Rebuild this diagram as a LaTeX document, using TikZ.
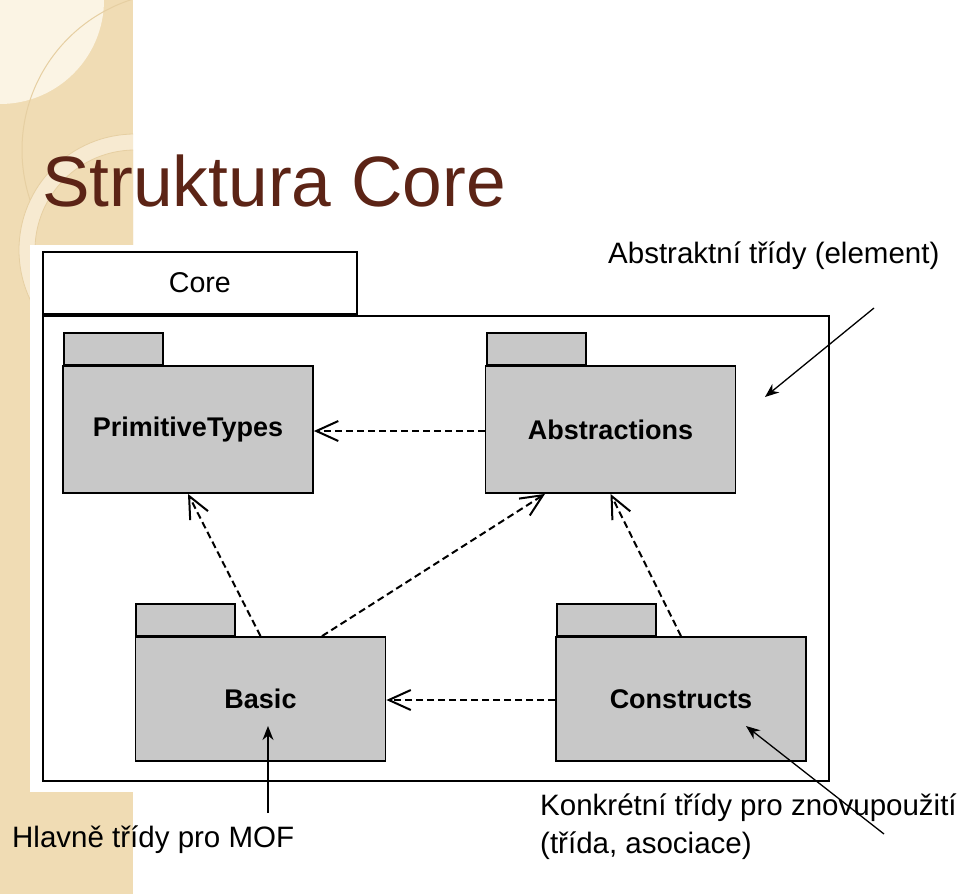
\documentclass[tikz,border=0pt]{standalone}
\usepackage{fontspec}
\setmainfont{Liberation Sans}
\usetikzlibrary{arrows.meta}
\definecolor{beige}{HTML}{F0DCB4}
\definecolor{beigelight}{HTML}{FBF4E4}
\definecolor{beigeline}{HTML}{E6CFA2}
\definecolor{titlebrown}{HTML}{5C2416}
\definecolor{pkggray}{HTML}{C8C8C8}
\tikzset{
  pkgbody/.style={draw=black, fill=pkggray, line width=1.8pt, minimum width=250pt, minimum height=127pt, inner sep=0pt,
    font=\bfseries\fontsize{27}{30}\selectfont},
  pkgtab/.style={draw=black, fill=pkggray, line width=1.8pt, minimum width=99pt, minimum height=32pt, inner sep=0pt, anchor=south west},
  depend/.style={line width=2pt, dash pattern=on 7pt off 4pt, -{Straight Barb[length=22pt,width=20pt,line width=2pt]}},
  note/.style={font=\fontsize{29.5}{35}\selectfont, inner sep=0pt, anchor=base west},
  notearrow/.style={line width=1.3pt, -{Stealth[length=14pt,width=11pt]}},
}
\begin{document}
\begin{tikzpicture}[x=1pt,y=-1pt]
\useasboundingbox (0,0) rectangle (960,894);
% background decoration
\fill[white] (0,0) rectangle (960,894);
\begin{scope}
  \clip (0,0) rectangle (133,894);
  \fill[beige] (0,0) rectangle (133,894);
  \fill[beigelight] (0,0) circle[radius=104];
  \draw[beigeline, line width=1pt] (180,150) circle[radius=158];
  \fill[beigelight!60!beige] (135,250) circle[radius=116];
  \fill[beige] (135,250) circle[radius=100];
  \draw[beigeline, line width=0.8pt] (135,250) circle[radius=116];
  \draw[beigeline, line width=0.8pt] (135,250) circle[radius=100];
\end{scope}
% diagram screenshot area
\fill[white] (30,245) rectangle (840,792);
% title
\node[font=\fontsize{71.3}{80}\selectfont, text=titlebrown, inner sep=0pt, anchor=base west] (title) at (42,206) {Struktura Core};
% Core package
\node[draw=black, line width=1.8pt, minimum width=314pt, minimum height=62pt, inner sep=0pt, anchor=south west,
      font=\fontsize{28.6}{32}\selectfont] (coretab) at (42,315) {Core};
\node[draw=black, line width=1.8pt, minimum width=786pt, minimum height=465pt, inner sep=0pt, anchor=north west] (core) at (42,315) {};
% packages
\node[pkgtab] (primtab) at (63,366) {};
\node[pkgbody] (prim) at (188,429.5) {PrimitiveTypes};
\node[pkgtab] (abstab) at (486,366) {};
\node[pkgbody] (abs) at (610.5,429.5) {Abstractions};
\node[pkgtab] (bastab) at (135,637) {};
\node[pkgbody, minimum height=124pt] (bas) at (260.5,699) {Basic};
\node[pkgtab] (constab) at (556,637) {};
\node[pkgbody, minimum height=124pt] (cons) at (681,699) {Constructs};
% dependencies
\draw[depend] ([yshift=-1.5pt]abs.west) -- ([yshift=-1.5pt]prim.east);
\draw[depend] (bas.north) -- (prim.south);
\draw[depend] ([xshift=61.5pt]bas.north) -- ([xshift=-65.5pt]abs.south);
\draw[depend] (cons.north) -- (abs.south);
\draw[depend] ([yshift=-1pt]cons.west) -- ([yshift=-1pt]bas.east);
% annotations
\node[note] (n1) at (608,263) {Abstraktní třídy (element)};
\node[note] (n2) at (12,847) {Hlavně třídy pro MOF};
\node[note] (n3) at (540,815) {Konkrétní třídy pro znovupoužití};
\node[note] (n4) at (540,853) {(třída, asociace)};
\coordinate (a1s) at (874,308);
\coordinate (a1e) at (765,397);
\coordinate (a2s) at (268,813);
\coordinate (a2e) at (268,726);
\coordinate (a3s) at (884,834);
\coordinate (a3e) at (746,726);
\draw[notearrow] (a1s) -- (a1e);
\draw[notearrow] (a2s) -- (a2e);
\draw[notearrow] (a3s) -- (a3e);
\end{tikzpicture}
\end{document}
